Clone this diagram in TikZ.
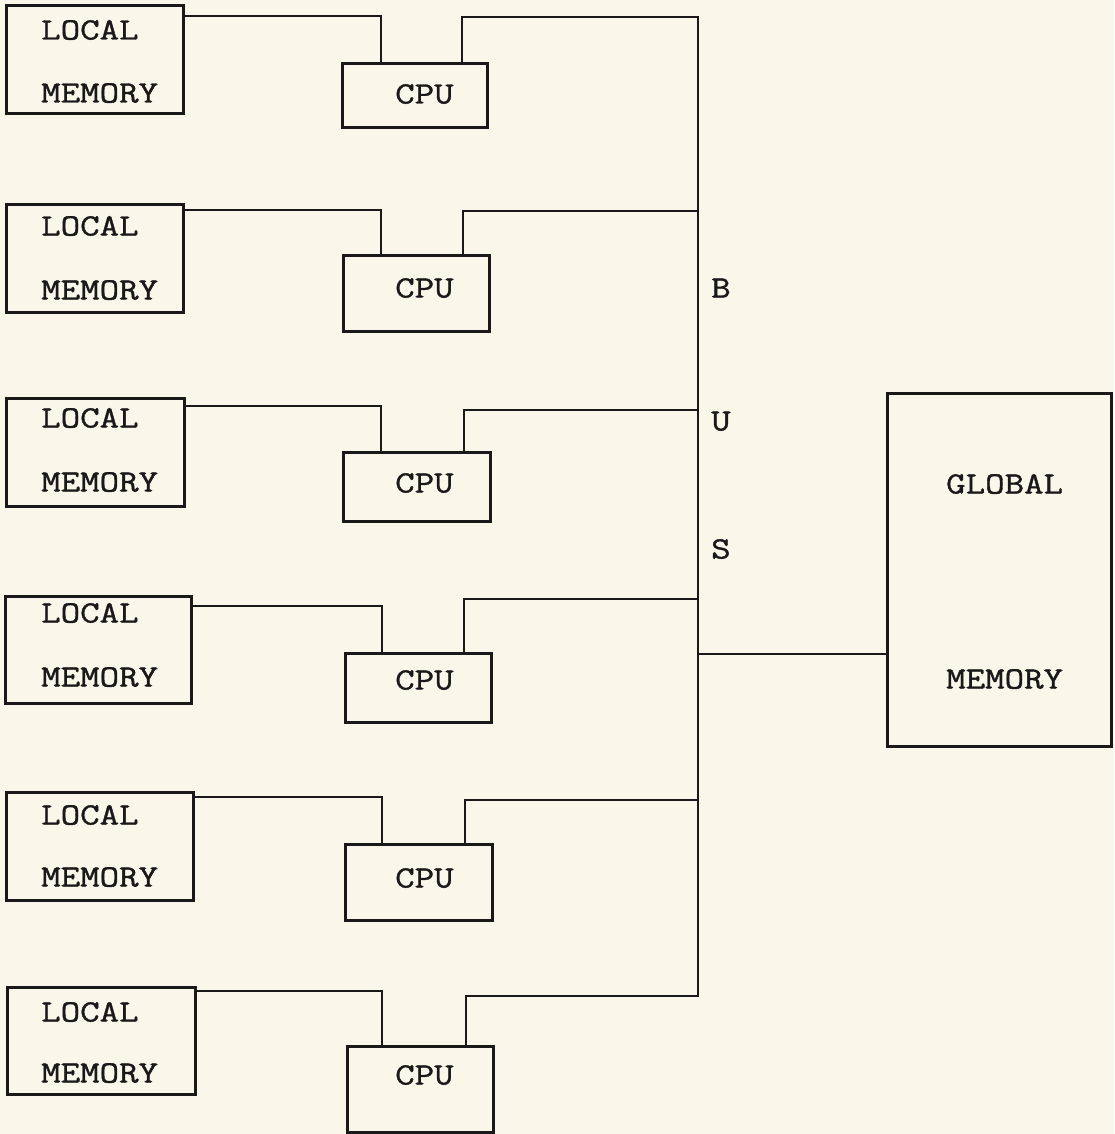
\documentclass[tikz,border=0pt]{standalone}
\usepackage{fontspec}
\newfontfamily\tw[FakeStretch=1.22,FakeBold=1.2]{Latin Modern Mono}
\definecolor{paper}{RGB}{249,247,234}
\definecolor{ink}{RGB}{25,25,25}
\begin{document}
\begin{tikzpicture}[x=1pt,y=-1pt,
  box/.style={draw=ink,line width=3pt,rectangle,inner sep=0pt,outer sep=0pt,anchor=north west},
  wire/.style={draw=ink,line width=2.7pt},
  buswire/.style={draw=ink,line width=2.5pt,line cap=rect},
  lbl/.style={text=ink,font=\tw\fontsize{31}{31}\selectfont,inner sep=0pt,anchor=base west}]
\fill[paper] (0,0) rectangle (1114,1134);
\useasboundingbox (0,0) rectangle (1114,1134);
% rows: index / LM x0,y0,x1,y1 / CPU x0,y0,x1,y1 / left wire y / left wire x / right wire x / right wire y / baselines LOCAL, MEMORY, CPU
\foreach \i/\lx/\ly/\lX/\lY/\cx/\cy/\cX/\cY/\wl/\xl/\xr/\wr/\ba/\bb/\bc in {
  1/6/6/183/114/342/64/487/128/16/381/462/17/39.5/102.5/103.5,
  2/6/204/183/312/343/255/489/331/210/381/463/211/235.5/299.5/297.5,
  3/6/398/184/506/343/452/490/521/406/381/464/410/427.5/491.5/492.5,
  4/5/596/191/703/345/653/491/722/606/382/464/599/622.5/686.5/689.5,
  5/6/792/193/900/345/844/492/920/797/382/465/800/824.5/886.5/887.5,
  6/7/987/195/1094/347/1046/493/1132/991/382/466/996/1021.5/1082.5/1084.5}{
  \node[box,minimum width=\lX pt-\lx pt,minimum height=\lY pt-\ly pt] (lm\i) at (\lx,\ly) {};
  \node[box,minimum width=\cX pt-\cx pt,minimum height=\cY pt-\cy pt] (cpu\i) at (\cx,\cy) {};
  \node[lbl] (lmta\i) at (41,\ba) {LOCAL};
  \node[lbl] (lmtb\i) at (41,\bb) {MEMORY};
  \node[lbl] (cput\i) at (395,\bc) {CPU};
  \coordinate (wa\i) at (0,\wl);
  \coordinate (xl\i) at (\xl,0);
  \coordinate (xr\i) at (\xr,0);
  \coordinate (bus\i) at (698,\wr);
  \draw[wire] (lm\i.east |- wa\i) -| (cpu\i.north -| xl\i);
  \draw[wire] (cpu\i.north -| xr\i) |- (bus\i);
}
\draw[buswire] (bus1) -- (bus6);
\node[box,minimum width=224pt,minimum height=353pt] (gm) at (887,393) {};
\node[lbl] (gmta) at (946,493.5) {GLOBAL};
\node[lbl] (gmtb) at (946,688.5) {MEMORY};
\coordinate (gmc) at (698,654);
\draw[wire] (gmc) -- (gm.west |- gmc);
\node[lbl] (bB) at (711,297.5) {B};
\node[lbl] (bU) at (711,430.5) {U};
\node[lbl] (bS) at (711,558.5) {S};
\end{tikzpicture}
\end{document}
